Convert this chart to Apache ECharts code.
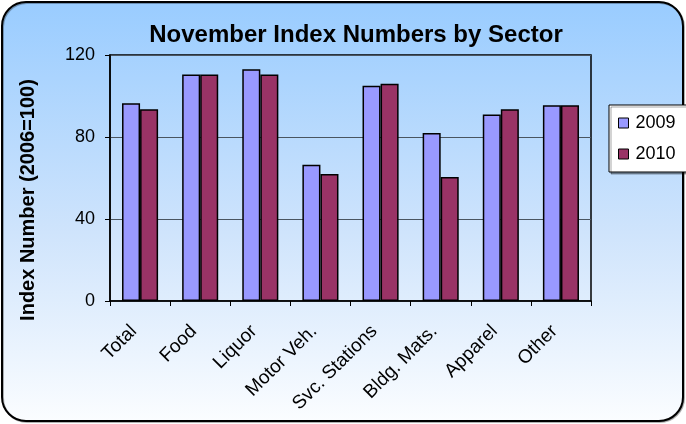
<!DOCTYPE html>
<html>
<head>
<meta charset="utf-8">
<script src="https://cdn.jsdelivr.net/npm/echarts@6/dist/echarts.min.js"></script>
<style>
  html, body { margin: 0; padding: 0; background: #fff; }
  #chart { width: 686px; height: 424px; }
</style>
</head>
<body>
<div id="chart"></div>
<script>
const categories = ['Total', 'Food', 'Liquor', 'Motor Veh.', 'Svc. Stations', 'Bldg. Mats.', 'Apparel', 'Other'];
const values2009 = [96.5, 110.5, 113, 66.5, 105, 82, 91, 95.5];
const values2010 = [93.5, 110.5, 110.5, 62, 106, 60.5, 93.5, 95.5];
const yTicks = { min: 0, max: 120, step: 40 };

const font = 'Arial, "Liberation Sans", sans-serif';
const chart = echarts.init(document.getElementById('chart'));

const barStyle = (color) => ({
  color: color,
  borderColor: '#000',
  borderWidth: 1.5
});

const option = {
  animation: false,
  graphic: [
    {
      type: 'rect',
      z: -10,
      shape: { x: 2, y: 2, width: 681, height: 419, r: 24 },
      style: {
        fill: new echarts.graphic.LinearGradient(0, 0, 0, 1, [
          { offset: 0, color: '#99CCFF' },
          { offset: 0.55, color: '#CFE4FC' },
          { offset: 1, color: '#FBFDFF' }
        ]),
        stroke: '#000',
        lineWidth: 2,
        shadowColor: 'rgba(0,0,0,0.3)',
        shadowOffsetX: 1,
        shadowOffsetY: 1
      }
    }
  ],
  title: {
    text: 'November Index Numbers by Sector',
    left: 351,
    top: 18,
    textAlign: 'center',
    textStyle: { fontFamily: font, fontSize: 24, fontWeight: 'bold', color: '#000' }
  },
  legend: {
    orient: 'vertical',
    left: 609,
    top: 105,
    padding: [9, 11, 9, 9],
    itemGap: 13,
    itemWidth: 10,
    itemHeight: 10,
    icon: 'rect',
    backgroundColor: '#fff',
    borderColor: '#000',
    borderWidth: 1,
    shadowColor: 'rgba(0,0,0,0.35)',
    shadowOffsetX: 2,
    shadowOffsetY: 2,
    textStyle: { fontFamily: font, fontSize: 18, color: '#000', padding: [0, 0, 0, 2] },
    itemStyle: { borderColor: '#000', borderWidth: 1 },
    data: ['2009', '2010']
  },
  grid: {
    left: 110,
    right: 95,
    top: 55,
    bottom: 123,
    show: true,
    borderColor: '#000',
    borderWidth: 1.5,
    backgroundColor: 'transparent'
  },
  xAxis: {
    type: 'category',
    data: categories,
    axisLine: { lineStyle: { color: '#000', width: 1.5 } },
    axisTick: { show: true, interval: 0, length: 5, lineStyle: { color: '#000' } },
    axisLabel: {
      interval: 0,
      rotate: 45,
      margin: 21,
      padding: [0, 9, 0, 0],
      fontFamily: font,
      fontSize: 19,
      color: '#000'
    }
  },
  yAxis: {
    type: 'value',
    min: yTicks.min,
    max: yTicks.max,
    interval: yTicks.step,
    name: 'Index Number (2006=100)',
    nameLocation: 'middle',
    nameGap: 72,
    nameTextStyle: {
      fontFamily: font,
      fontSize: 20,
      fontWeight: 'bold',
      color: '#000',
      padding: [0, 44, 0, 0]
    },
    axisLine: { show: true, lineStyle: { color: '#000', width: 1.5 } },
    axisTick: { show: true, length: 5, lineStyle: { color: '#000' } },
    axisLabel: { fontFamily: font, fontSize: 18, color: '#000', margin: 15 },
    splitLine: { lineStyle: { color: '#4a5560', width: 1 } }
  },
  series: [
    {
      name: '2009',
      type: 'bar',
      data: values2009,
      barWidth: '30%',
      barGap: '0%',
      itemStyle: barStyle('#9999FF')
    },
    {
      name: '2010',
      type: 'bar',
      data: values2010,
      barWidth: '30%',
      barGap: '0%',
      itemStyle: barStyle('#993366')
    }
  ]
};

chart.setOption(option);
</script>
</body>
</html>
